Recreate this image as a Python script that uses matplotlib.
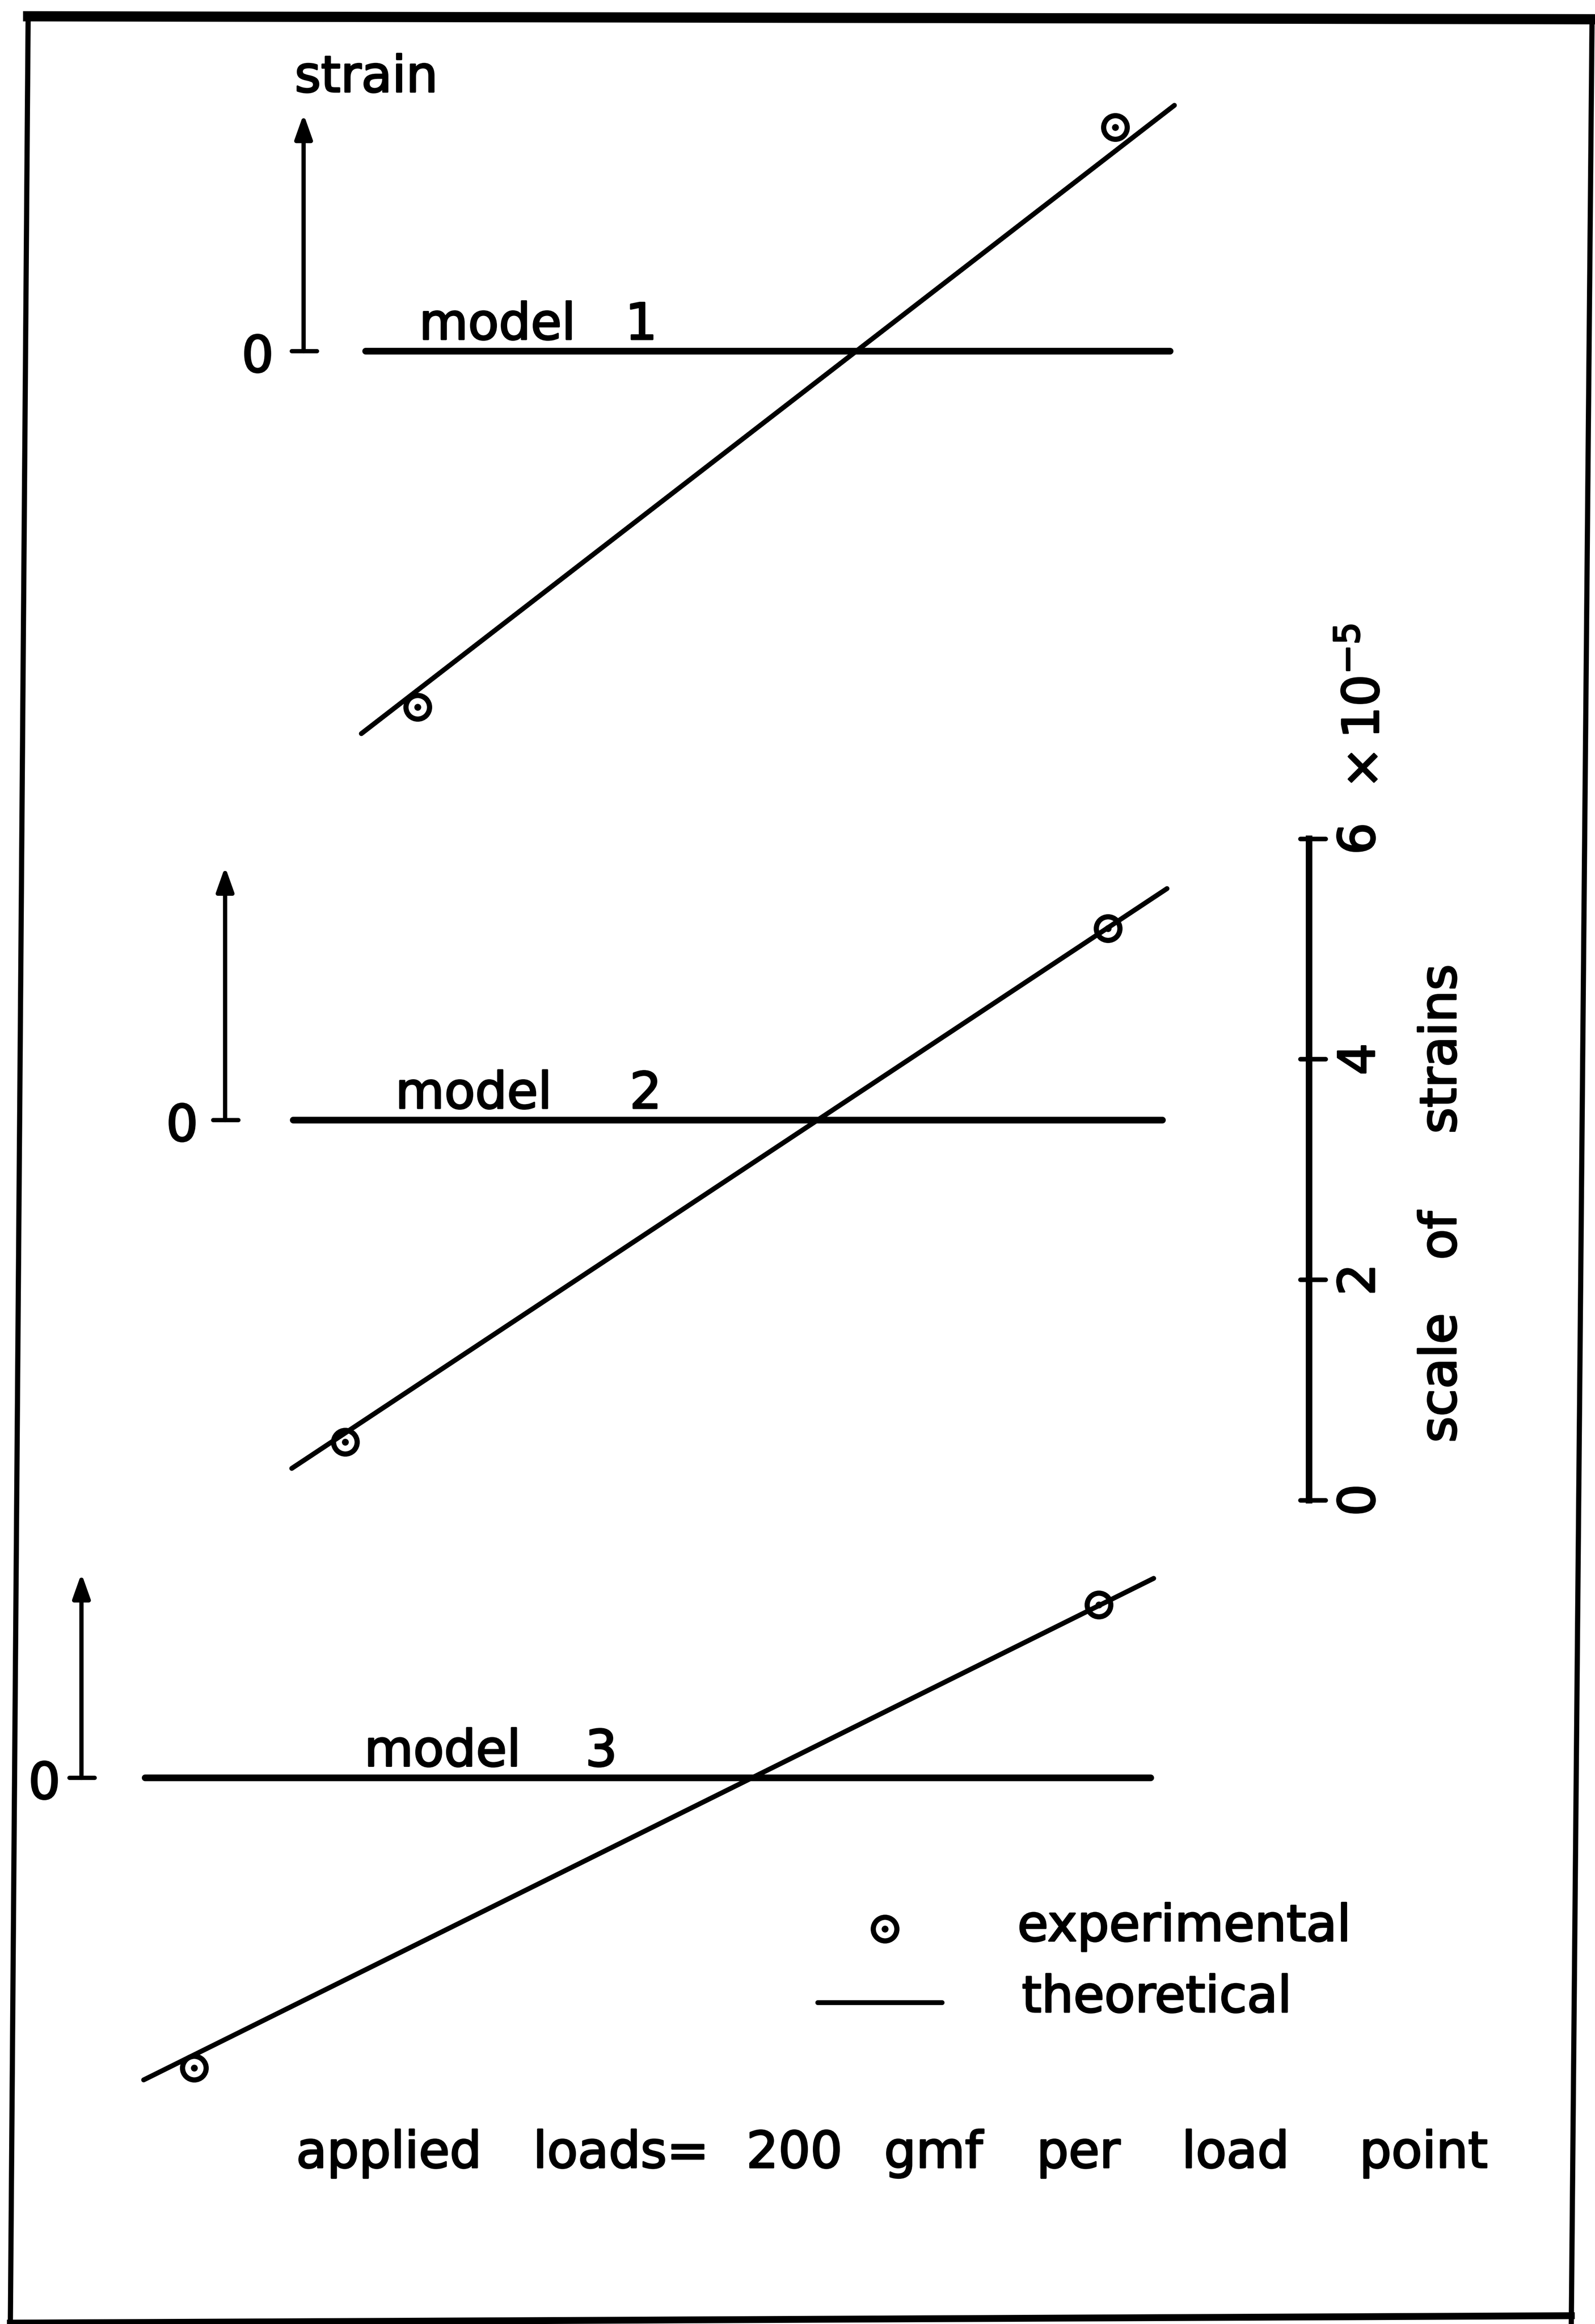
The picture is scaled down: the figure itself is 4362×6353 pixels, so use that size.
import matplotlib.pyplot as plt
import matplotlib.patheffects as pe
from matplotlib.transforms import Affine2D

plt.rcParams['font.family'] = ['DejaVu Sans']
plt.rcParams['mathtext.fontset'] = 'dejavusans'

# strains in units of 1e-5, x = position across the sheet
models = ['1', '2', '3']
theory_x = [[244, 793], [197, 788], [97, 779]]
theory_strain = [[-3.47, 2.23], [-3.16, 2.10], [-2.74, 1.81]]
exp_x = [[282, 753], [233, 748], [131, 742]]
exp_strain = [[-3.23, 2.03], [-2.92, 1.74], [-2.63, 1.57]]
zero_x = [[247, 790], [198, 785], [98, 777]]

scale_ticks = [0, 2, 4, 6]
scale_labels = ['0', '2', '4', '6']

load_words = ['applied', 'loads=', '200', 'gmf', 'per', 'load', 'point']
load_x = [200, 360, 504, 597, 700, 798, 918]

# sheet layout (sheet units, y downwards)
W, H = 1077, 1568.6
PX = 74.4                  # sheet units per 1e-5 strain
zero_y = [237, 756, 1200]
arrow_x = [205, 152, 55]
arrow_top = [77, 585, 1062]
zero_lab_x = [174, 123, 30]
label_x = [283, 267, 246]
num_x = [433, 436, 406]
scale_x, scale_base = 884, 1012.5

FS = 33
LW = 3.2
MS, MEW = 15.5, 3.4
# pen-drawn lettering is a bit heavier than the plain font
ink = [pe.withStroke(linewidth=1.1, foreground='k')]

fig = plt.figure(figsize=(4362 / 300, 6353 / 300), dpi=300)
ax = fig.add_axes([0, 0, 1, 1])
ax.set_xlim(0, W)
ax.set_ylim(H, 0)
ax.axis('off')


def strain_trans(base):
    # (x, strain) -> sheet position, zero strain at `base`
    return Affine2D().scale(1, -PX).translate(0, base) + ax.transData


def label(x, y, s, **kw):
    kw.setdefault('ha', 'left')
    kw.setdefault('va', 'baseline')
    return ax.text(x, y, s, fontsize=FS, path_effects=ink, **kw)


for i, m in enumerate(models):
    tr = strain_trans(zero_y[i])
    ax.plot(zero_x[i], [0, 0], transform=tr, c='k', lw=4.4, solid_capstyle='round')
    ax.plot(theory_x[i], theory_strain[i], transform=tr, c='k', lw=LW,
            solid_capstyle='round')
    ax.plot(exp_x[i], exp_strain[i], 'o', transform=tr, ms=MS, mfc='none',
            mec='k', mew=MEW, zorder=4)
    ax.plot(exp_x[i], exp_strain[i], 'o', transform=tr, ms=3.5, c='k', zorder=4)

    # little strain axis with arrow
    ax.annotate('', xy=(arrow_x[i], arrow_top[i]), xytext=(arrow_x[i], zero_y[i]),
                arrowprops=dict(arrowstyle='-|>,head_length=0.45,head_width=0.16',
                                mutation_scale=30, lw=2.8, color='k',
                                shrinkA=0, shrinkB=0))
    ax.plot([arrow_x[i] - 8, arrow_x[i] + 9], [zero_y[i], zero_y[i]], c='k', lw=2.8,
            solid_capstyle='round')
    label(zero_lab_x[i], zero_y[i] + 14, '0', ha='center')
    label(label_x[i], zero_y[i] - 8, 'model')
    label(num_x[i], zero_y[i] - 8, m, ha='center')

label(199, 62, 'strain')

# scale of strains
trs = strain_trans(scale_base)
ax.plot([scale_x, scale_x], [scale_ticks[0], scale_ticks[-1]], transform=trs,
        c='k', lw=4.3)
for t, lab in zip(scale_ticks, scale_labels):
    ax.plot([scale_x - 6, scale_x + 11], [t, t], transform=trs, c='k', lw=3,
            solid_capstyle='round')
    ax.text(928, t, lab, transform=trs, fontsize=FS, rotation=90,
            rotation_mode='anchor', ha='center', va='baseline', path_effects=ink)
label(931, 477, r'$\times\,10^{-5}$', rotation=90, rotation_mode='anchor',
      ha='center')
for word, yc in zip(['scale', 'of', 'strains'], [930, 834, 708]):
    label(983, yc, word, rotation=90, rotation_mode='anchor', ha='center')

# key
ax.plot([597.5], [1302], 'o', ms=MS, mfc='none', mec='k', mew=MEW)
ax.plot([597.5], [1302], 'o', ms=3.5, c='k')
label(687, 1310, 'experimental')
ax.plot([552, 636], [1351.6, 1351.6], c='k', lw=LW, solid_capstyle='round')
label(690, 1358, 'theoretical')

for word, x in zip(load_words, load_x):
    label(x, 1463, word)

# frame round the sheet
ax.plot([19, 1075], [11, 13], c='k', lw=6.7, clip_on=False)
ax.plot([19, 7], [11, 1568], c='k', lw=3.4, clip_on=False)
ax.plot([1075, 1061], [13, 1568], c='k', lw=3.4, clip_on=False)
ax.plot([7, 1061], [1568, 1563], c='k', lw=4.5, clip_on=False)

fig.savefig('out.png', dpi=300, facecolor='white')
